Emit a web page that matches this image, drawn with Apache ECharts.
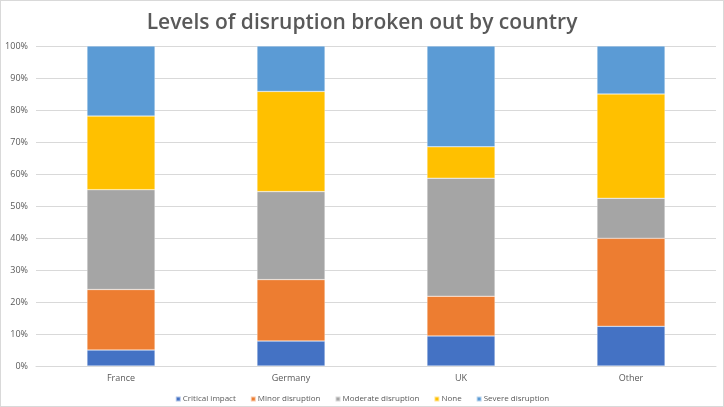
<!DOCTYPE html>
<html><head><meta charset="utf-8">
<script src="https://cdn.jsdelivr.net/npm/echarts@6/dist/echarts.min.js"></script>
<style>
html,body{margin:0;padding:0;background:#fff;}
#c{width:722px;height:405px;border:1px solid #d9d9d9;}
</style></head><body>
<div id="c"></div>
<script>
const categories = ['France', 'Germany', 'UK', 'Other'];
const critical = [5.0, 7.8, 9.4, 12.4];
const minor = [18.9, 19.2, 12.4, 27.5];
const moderate = [31.2, 27.5, 36.9, 12.5];
const none = [23.0, 31.3, 9.8, 32.6];
const severe = [21.9, 14.2, 31.5, 15.0];
const seriesNames = ['Critical impact', 'Minor disruption', 'Moderate disruption', 'None', 'Severe disruption'];
const colors = ['#4472C4', '#ED7D31', '#A5A5A5', '#FFC000', '#5B9BD5'];
const values = [critical, minor, moderate, none, severe];

const chart = echarts.init(document.getElementById('c'));
chart.setOption({
  animation: false,
  title: {
    text: 'Levels of disruption broken out by country',
    left: 'center', top: 7,
    textStyle: {fontFamily: 'Open Sans', fontSize: 21, fontWeight: 600, color: '#595959'}
  },
  legend: {
    top: 389, left: 'center',
    itemWidth: 5, itemHeight: 5, itemGap: 14,
    icon: 'rect',
    textStyle: {fontFamily: 'Open Sans', fontSize: 8, color: '#595959', padding: [0, 0, 0, -3]},
    data: seriesNames
  },
  grid: {left: 35, right: 7, top: 45, bottom: 40},
  xAxis: {
    type: 'category', data: categories,
    axisLine: {lineStyle: {color: '#d9d9d9'}},
    axisTick: {show: false},
    axisLabel: {fontFamily: 'Open Sans', fontSize: 9, color: '#595959', margin: 8}
  },
  yAxis: {
    type: 'value', min: 0, max: 100, interval: 10,
    axisLabel: {formatter: '{value}%', fontFamily: 'Open Sans', fontSize: 9, color: '#595959', margin: 8},
    splitLine: {lineStyle: {color: '#d9d9d9'}},
    axisLine: {show: false}, axisTick: {show: false}
  },
  series: seriesNames.map((n, i) => ({
    name: n, type: 'bar', stack: 'total', data: values[i],
    barWidth: '40%',
    itemStyle: {color: colors[i], borderColor: 'rgba(255,255,255,0.6)', borderWidth: 0.5}
  }))
});
</script>
</body></html>
